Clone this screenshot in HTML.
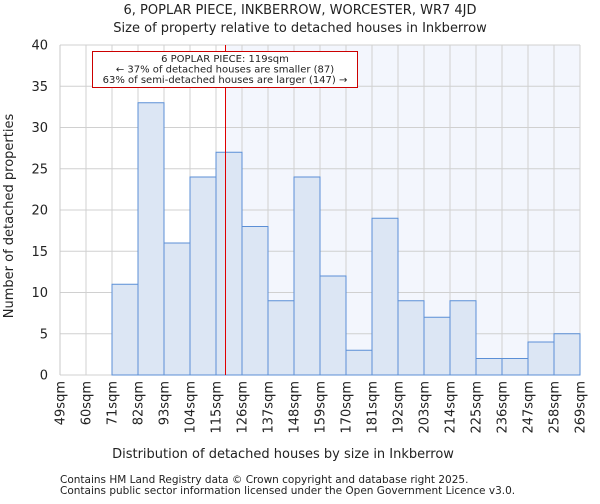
<!DOCTYPE html>
<html><head><meta charset="utf-8"><style>
body{margin:0;background:#fff;font-family:"DejaVu Sans","Liberation Sans",sans-serif;}
svg text{font-family:"DejaVu Sans","Liberation Sans",sans-serif;fill:#222;}
</style></head><body>
<svg id="chart" width="600" height="500">
<text x="300" y="14" font-size="13" text-anchor="middle">6, POPLAR PIECE, INKBERROW, WORCESTER, WR7 4JD</text>
<text x="300" y="32" font-size="13" text-anchor="middle">Size of property relative to detached houses in Inkberrow</text>
<g id="plot"></g>
<text x="283" y="458" font-size="13" text-anchor="middle">Distribution of detached houses by size in Inkberrow</text>
<text transform="translate(13,216) rotate(-90)" font-size="13" text-anchor="middle">Number of detached properties</text>
<text x="60" y="483" font-size="10.5">Contains HM Land Registry data © Crown copyright and database right 2025.</text>
<text x="60" y="494" font-size="10.5">Contains public sector information licensed under the Open Government Licence v3.0.</text>
</svg>
<script>
const binStarts=[49,60,71,82,93,104,115,126,137,148,159,170,181,192,203,214,225,236,247,258];
const counts=[0,0,11,33,16,24,27,18,9,24,12,3,19,9,7,9,2,2,4,5];
const yTicks=[0,5,10,15,20,25,30,35,40];
const xTickLabels=[49,60,71,82,93,104,115,126,137,148,159,170,181,192,203,214,225,236,247,258,269];
const propertySize=119;
const binWidth=11;
const X0=60,X1=580,Y0=375,Y1=45,xMin=49,xMax=269,yMax=40;
const sx=v=>X0+(v-xMin)/(xMax-xMin)*(X1-X0);
const sy=v=>Y0-v/yMax*(Y0-Y1);
const NS="http://www.w3.org/2000/svg";
const g=document.getElementById('plot');
function mk(t,a){const e=document.createElementNS(NS,t);for(const k in a)e.setAttribute(k,a[k]);g.appendChild(e);return e;}
let e;
const mx=Math.round(sx(propertySize));
e=mk('rect',{x:mx,y:Y1,width:X1-mx,height:Y0-Y1,fill:'#f3f6fd'});


xTickLabels.forEach(v=>{
 e=mk('line',{x1:sx(v),x2:sx(v),y1:Y1,y2:Y0,stroke:'#d0d0d0','stroke-width':1});
 
 
 e=mk('text',{transform:`translate(${sx(v)+4.5},381) rotate(-90)`,'font-size':'13','text-anchor':'end'});
 e.textContent=v+'sqm';
 
 
});
yTicks.forEach(v=>{
 e=mk('line',{x1:X0,x2:X1,y1:sy(v),y2:sy(v),stroke:'#d0d0d0','stroke-width':1});
 
 
 e=mk('text',{x:48,y:sy(v)+4.5,'font-size':'13','text-anchor':'end'});
 e.textContent=v;
 
 
});
binStarts.forEach((b,i)=>{
 if(counts[i]<=0)return;
 e=mk('rect',{x:sx(b),y:sy(counts[i]),width:sx(b+binWidth)-sx(b),height:sy(0)-sy(counts[i]),fill:'#dce6f4',stroke:'#5b8fd6','stroke-width':1});
 
 
});
e=mk('line',{x1:X0,x2:X0,y1:Y1,y2:Y0,stroke:'#c8c8c8'});


e=mk('rect',{x:mx,y:Y1,width:1,height:Y0-Y1,fill:'#e00000'});


e=mk('rect',{x:92.5,y:51.5,width:265,height:36,fill:'#fff',stroke:'#cc0000','stroke-width':1});


const lines=['6 POPLAR PIECE: 119sqm','← 37% of detached houses are smaller (87)','63% of semi-detached houses are larger (147) →'];
lines.forEach((t,i)=>{
 e=mk('text',{x:225,y:62+i*10.5,'font-size':'10','text-anchor':'middle'});
 e.textContent=t;
 
 
});
</script>
</body></html>
